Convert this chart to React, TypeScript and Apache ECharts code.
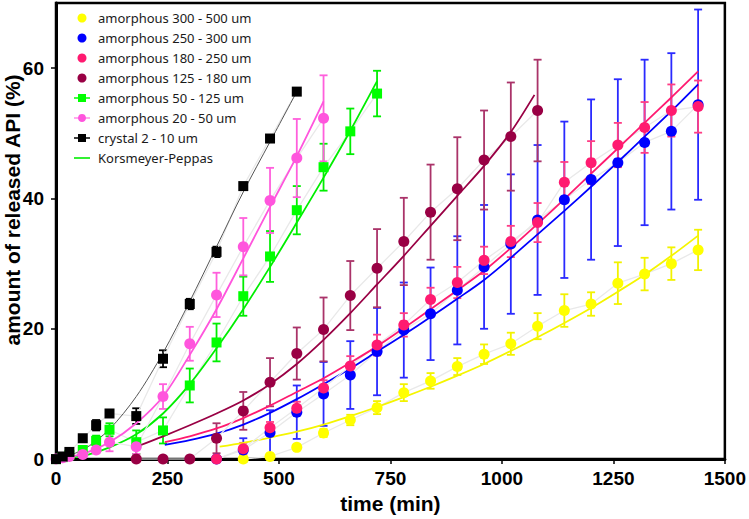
import React, { useEffect, useRef } from 'react';
import * as echarts from 'echarts';

// ---- axes ----
const X_TICKS = [0, 250, 500, 750, 1000, 1250, 1500];
const Y_TICKS = [0, 20, 40, 60];

// ---- legend names ----
const NAME_Y = 'amorphous 300 - 500 um';
const NAME_B = 'amorphous 250 - 300 um';
const NAME_R = 'amorphous 180 - 250 um';
const NAME_M = 'amorphous 125 - 180 um';
const NAME_G = 'amorphous 50 - 125 um';
const NAME_P = 'amorphous 20 - 50 um';
const NAME_K = 'crystal 2 - 10 um';
const NAME_FIT = 'Korsmeyer-Peppas';

// ---- amorphous 300-500 (yellow) ----
const T_Y = [420, 480, 540, 600, 660, 720, 780, 840, 900, 960, 1020, 1080, 1140, 1200, 1260, 1320, 1380, 1440];
const V_Y = [0, 0.4, 1.8, 4.0, 6.0, 7.9, 10.2, 12.0, 14.2, 16.1, 17.7, 20.4, 22.8, 23.8, 27.0, 28.4, 30.0, 32.1];
const E_Y = [0, 0.3, 0.4, 0.6, 0.8, 1.0, 1.3, 1.2, 1.3, 1.5, 1.7, 2.0, 2.5, 1.8, 3.2, 2.5, 2.5, 3.1];
const FT_Y = [367, 420, 480, 540, 600, 660, 720, 780, 840, 900, 960, 1020, 1080, 1140, 1200, 1260, 1320, 1380, 1440];
const FV_Y = [1.9, 2.5, 3.3, 4.2, 5.3, 6.6, 8.0, 9.5, 11.1, 12.8, 14.6, 16.6, 18.7, 20.9, 23.2, 25.7, 28.3, 31.2, 34.3];

// ---- amorphous 250-300 (blue) ----
const T_B = [360, 420, 480, 540, 600, 660, 720, 780, 840, 900, 960, 1020, 1080, 1140, 1200, 1260, 1320, 1380, 1440];
const V_B = [0, 1.4, 4.1, 7.2, 10.0, 12.9, 16.5, 19.8, 22.3, 25.9, 29.5, 33.0, 36.7, 39.8, 42.9, 45.5, 48.6, 50.3, 54.4];
const E_B = [0, 1.8, 3.4, 4.1, 4.9, 5.2, 6.7, 7.3, 7.1, 8.3, 9.5, 10.7, 11.5, 12.0, 12.3, 12.8, 12.7, 12.0, 14.6];
const FT_B = [244, 300, 360, 420, 480, 540, 600, 660, 720, 780, 840, 900, 960, 1020, 1080, 1140, 1200, 1260, 1320, 1380, 1440];
const FV_B = [2.2, 2.9, 3.9, 5.3, 7.1, 9.2, 11.5, 13.9, 16.5, 19.1, 21.8, 24.6, 27.5, 30.9, 34.5, 38.1, 41.8, 45.6, 49.5, 53.4, 57.5];

// ---- amorphous 180-250 (pink-red) ----
const T_R = [360, 420, 480, 540, 600, 660, 720, 780, 840, 900, 960, 1020, 1080, 1140, 1200, 1260, 1320, 1380, 1440];
const V_R = [0, 1.6, 4.8, 7.8, 10.9, 14.3, 17.5, 20.6, 24.5, 27.1, 30.5, 33.4, 36.3, 42.5, 45.5, 48.2, 50.9, 53.5, 54.1];
const E_R = [0, 0.9, 0.9, 1.0, 1.2, 1.5, 1.6, 1.8, 1.8, 2.4, 2.1, 2.4, 3.0, 3.1, 3.3, 3.4, 3.9, 4.0, 4.0];
const FT_R = [244, 300, 360, 420, 480, 540, 600, 660, 720, 780, 840, 900, 960, 1020, 1080, 1140, 1200, 1260, 1320, 1380, 1440];
const FV_R = [2.6, 3.5, 4.7, 6.3, 8.2, 10.3, 12.4, 14.8, 17.3, 20.1, 23.0, 25.9, 28.9, 32.4, 36.1, 39.9, 43.8, 47.7, 51.6, 55.5, 59.5];

// ---- amorphous 125-180 (maroon) ----
const T_M = [180, 240, 300, 360, 420, 480, 540, 600, 660, 720, 780, 840, 900, 960, 1020, 1080];
const V_M = [0, 0, 0, 3.2, 7.4, 11.8, 16.2, 19.9, 25.1, 29.3, 33.4, 37.9, 41.5, 45.9, 49.5, 53.5];
const E_M = [0, 0, 0, 2.3, 2.9, 3.7, 4.0, 4.9, 5.3, 6.0, 6.7, 7.3, 7.9, 7.6, 8.3, 7.8];
const FT_M = [180, 240, 300, 360, 420, 480, 540, 600, 660, 720, 780, 840, 900, 960, 1020, 1073];
const FV_M = [1.9, 3.5, 5.2, 7.0, 9.0, 11.5, 14.6, 18.3, 22.4, 26.8, 31.2, 35.8, 40.4, 45.0, 50.2, 55.9];

// ---- amorphous 50-125 (green) ----
const T_G = [0, 15, 30, 60, 90, 120, 180, 240, 300, 360, 420, 480, 540, 600, 660, 720];
const V_G = [0, 0.3, 0.6, 1.4, 2.8, 4.5, 2.6, 4.4, 11.3, 17.9, 25.0, 31.1, 38.2, 44.8, 50.3, 56.1];
const E_G = [0, 0.2, 0.3, 0.6, 0.8, 1.0, 1.8, 2.0, 2.6, 2.9, 3.0, 3.9, 3.7, 3.6, 3.5, 3.5];
const FT_G = [0, 60, 120, 180, 240, 300, 360, 420, 480, 540, 600, 660, 720];
const FV_G = [0, 0.5, 1.8, 3.8, 7.0, 11.5, 17.0, 23.0, 29.5, 36.3, 43.2, 50.4, 58.0];

// ---- amorphous 20-50 (pink) ----
const T_P = [0, 15, 30, 60, 90, 120, 180, 240, 300, 360, 420, 480, 540, 600];
const V_P = [0, 0.2, 0.4, 0.7, 1.4, 2.6, 1.9, 9.6, 17.7, 25.2, 32.6, 39.7, 46.2, 52.3];
const E_P = [0, 0.1, 0.2, 0.3, 0.5, 1.4, 1.1, 1.9, 2.6, 3.4, 4.4, 5.0, 6.0, 6.6];
const FT_P = [0, 60, 120, 180, 240, 300, 360, 420, 480, 540, 600];
const FV_P = [0, 0.8, 2.6, 5.5, 9.6, 16.0, 23.0, 30.8, 38.7, 46.5, 54.9];

// ---- crystal 2-10 (black) ----
const T_K = [0, 15, 30, 60, 90, 120, 180, 240, 300, 360, 420, 480, 540];
const V_K = [0, 0.4, 1.1, 3.2, 5.2, 7.0, 6.6, 15.4, 23.8, 31.8, 41.9, 49.2, 56.4];
const E_K = [0, 0.2, 0.3, 0.5, 0.8, 0.5, 1.2, 1.3, 0.8, 0.8, 0.5, 0.5, 0.5];
const FT_K = [0, 60, 120, 180, 240, 300, 360, 420, 480, 540];
const FV_K = [0, 1.4, 4.6, 9.6, 16.3, 24.2, 32.6, 41.0, 48.7, 56.4];

type SetDef = {
  name: string; color: string; errColor: string; fitColor: string; fitWidth: number;
  symbol: string; size: number; t: number[]; v: number[]; e: number[];
  ft: number[]; fv: number[]; fitName: string;
};

const SETS: SetDef[] = [
  { name: NAME_Y, color: '#ffff00', errColor: '#f2f200', fitColor: '#f5f500', fitWidth: 1.8, symbol: 'circle', size: 11, t: T_Y, v: V_Y, e: E_Y, ft: FT_Y, fv: FV_Y, fitName: 'fit-y' },
  { name: NAME_B, color: '#0000ff', errColor: '#2a2aff', fitColor: '#0000ff', fitWidth: 1.8, symbol: 'circle', size: 11, t: T_B, v: V_B, e: E_B, ft: FT_B, fv: FV_B, fitName: 'fit-b' },
  { name: NAME_R, color: '#ff1a70', errColor: '#ff3d85', fitColor: '#ff1a70', fitWidth: 1.8, symbol: 'circle', size: 11, t: T_R, v: V_R, e: E_R, ft: FT_R, fv: FV_R, fitName: 'fit-r' },
  { name: NAME_M, color: '#990044', errColor: '#aa3369', fitColor: '#990044', fitWidth: 1.8, symbol: 'circle', size: 11, t: T_M, v: V_M, e: E_M, ft: FT_M, fv: FV_M, fitName: 'fit-m' },
  { name: NAME_G, color: '#00ff00', errColor: '#00ee00', fitColor: '#00ee00', fitWidth: 1.8, symbol: 'rect', size: 10, t: T_G, v: V_G, e: E_G, ft: FT_G, fv: FV_G, fitName: NAME_FIT },
  { name: NAME_P, color: '#ff55dd', errColor: '#ff5fdc', fitColor: '#ff55dd', fitWidth: 1.8, symbol: 'circle', size: 11, t: T_P, v: V_P, e: E_P, ft: FT_P, fv: FV_P, fitName: 'fit-p' },
  { name: NAME_K, color: '#000000', errColor: '#000000', fitColor: '#555555', fitWidth: 1, symbol: 'rect', size: 10, t: T_K, v: V_K, e: E_K, ft: FT_K, fv: FV_K, fitName: 'fit-k' },
];

const ICON_SQ_LINE = 'path://M0,3.25H4V0H12V3.25H16V4.75H12V8H4V4.75H0Z';
const ICON_CI_LINE = 'path://M0,3.4H4.045A4,4 0 0 1 11.955,3.4H16V4.6H11.955A4,4 0 0 1 4.045,4.6H0Z';
const ICON_LINE = 'path://M0,0H16V1.6H0Z';

function errRender(color: string) {
  return (params: any, api: any) => {
    const x = api.value(0);
    const lo = api.value(1);
    const hi = api.value(2);
    const p1 = api.coord([x, hi]);
    const p2 = api.coord([x, lo]);
    const w = 4;
    const st = { stroke: color, lineWidth: 1.8 };
    return {
      type: 'group',
      children: [
        { type: 'line', shape: { x1: p1[0], y1: p1[1], x2: p2[0], y2: p2[1] }, style: st },
        { type: 'line', shape: { x1: p1[0] - w, y1: p1[1], x2: p1[0] + w, y2: p1[1] }, style: st },
        { type: 'line', shape: { x1: p2[0] - w, y1: p2[1], x2: p2[0] + w, y2: p2[1] }, style: st },
      ],
    };
  };
}

export default function App() {
  const ref = useRef<HTMLDivElement>(null);
  useEffect(() => {
    const chart = echarts.init(ref.current!, null, { renderer: 'svg' });
    const series: any[] = [];
    SETS.forEach((s) => {
      series.push({
        name: s.name + ' err',
        type: 'custom',
        renderItem: errRender(s.errColor),
        data: s.t.map((x, i) => [x, s.v[i] - s.e[i], s.v[i] + s.e[i]]).filter((_, i) => s.e[i] > 0),
        encode: { x: 0, y: [1, 2] },
        silent: true,
      });
      series.push({
        name: s.name,
        type: 'line',
        data: s.t.map((x, i) => [x, s.v[i]]),
        symbol: s.symbol,
        symbolSize: s.size,
        showSymbol: true,
        itemStyle: { color: s.color, borderWidth: 0 },
        lineStyle: { color: '#e9e9e9', width: 1.3 },
        silent: true,
      });
      series.push({
        name: s.fitName,
        type: 'line',
        data: s.ft.map((x, i) => [x, s.fv[i]]),
        showSymbol: false,
        symbol: 'none',
        smooth: 0.3,
        itemStyle: { color: s.fitColor },
        lineStyle: { color: s.fitColor, width: s.fitWidth },
        silent: true,
      });
    });

    const legendData = [
      { name: NAME_Y, icon: 'circle', itemStyle: { color: '#ffff00', borderWidth: 0, borderColor: '#ffff00' } },
      { name: NAME_B, icon: 'circle', itemStyle: { color: '#0000ff', borderWidth: 0, borderColor: '#0000ff' } },
      { name: NAME_R, icon: 'circle', itemStyle: { color: '#ff1a70', borderWidth: 0, borderColor: '#ff1a70' } },
      { name: NAME_M, icon: 'circle', itemStyle: { color: '#990044', borderWidth: 0, borderColor: '#990044' } },
      { name: NAME_G, icon: ICON_SQ_LINE, itemStyle: { color: '#00ff00', borderWidth: 0, borderColor: '#00ff00' } },
      { name: NAME_P, icon: ICON_CI_LINE, itemStyle: { color: '#ff55dd', borderWidth: 0, borderColor: '#ff55dd' } },
      { name: NAME_K, icon: ICON_SQ_LINE, itemStyle: { color: '#000000', borderWidth: 0, borderColor: '#000000' } },
      { name: NAME_FIT, icon: ICON_LINE, itemStyle: { color: '#00ee00', borderWidth: 0, borderColor: '#00ee00' } },
    ];

    const axisFont = { fontFamily: '"Liberation Sans", Arial, sans-serif', fontWeight: 'bold' as const, color: '#000' };

    chart.setOption({
      animation: false,
      backgroundColor: '#ffffff',
      grid: { left: 56, right: 23, top: 3, bottom: 58, show: true, borderColor: '#000', borderWidth: 2.5, backgroundColor: 'transparent' },
      legend: {
        data: legendData,
        orient: 'vertical',
        left: 74,
        top: 8,
        padding: 0,
        itemWidth: 16,
        itemHeight: 9,
        itemGap: 0,
        selectedMode: false,
        symbolKeepAspect: true,
        textStyle: { fontFamily: '"Noto Sans", sans-serif', fontSize: 13, color: '#1a1a1a', lineHeight: 20, padding: [0, 0, 0, 3] },
      },
      xAxis: {
        type: 'value',
        min: X_TICKS[0],
        max: X_TICKS[X_TICKS.length - 1],
        interval: X_TICKS[1] - X_TICKS[0],
        name: 'time (min)',
        nameLocation: 'middle',
        nameGap: 33,
        nameTextStyle: { ...axisFont, fontSize: 21 },
        axisLine: { show: true, onZero: false, lineStyle: { color: '#000', width: 3 } },
        axisTick: { show: true, length: 5, lineStyle: { color: '#000', width: 1.5 } },
        axisLabel: { ...axisFont, fontSize: 19, margin: 10, formatter: (v: number) => String(v) },
        splitLine: { show: false },
      },
      yAxis: {
        type: 'value',
        min: Y_TICKS[0],
        max: 70,
        interval: Y_TICKS[1] - Y_TICKS[0],
        axisLine: { show: true, onZero: false, lineStyle: { color: '#000', width: 3 } },
        axisTick: { show: true, length: 5, lineStyle: { color: '#000', width: 1.5 } },
        axisLabel: { ...axisFont, fontSize: 19, margin: 12, showMaxLabel: false, formatter: (v: number) => String(v) },
        splitLine: { show: false },
      },
      graphic: [
        {
          type: 'text',
          x: 12,
          y: 210,
          rotation: Math.PI / 2,
          style: {
            text: 'amount of released API (%)',
            font: 'bold 21px "Liberation Sans", Arial, sans-serif',
            fill: '#000',
            textAlign: 'center',
            textVerticalAlign: 'middle',
          },
        },
      ],
      series,
    });
    return () => chart.dispose();
  }, []);
  return <div ref={ref} style={{ position: 'fixed', left: 0, top: 0, width: 749, height: 519 }} />;
}
